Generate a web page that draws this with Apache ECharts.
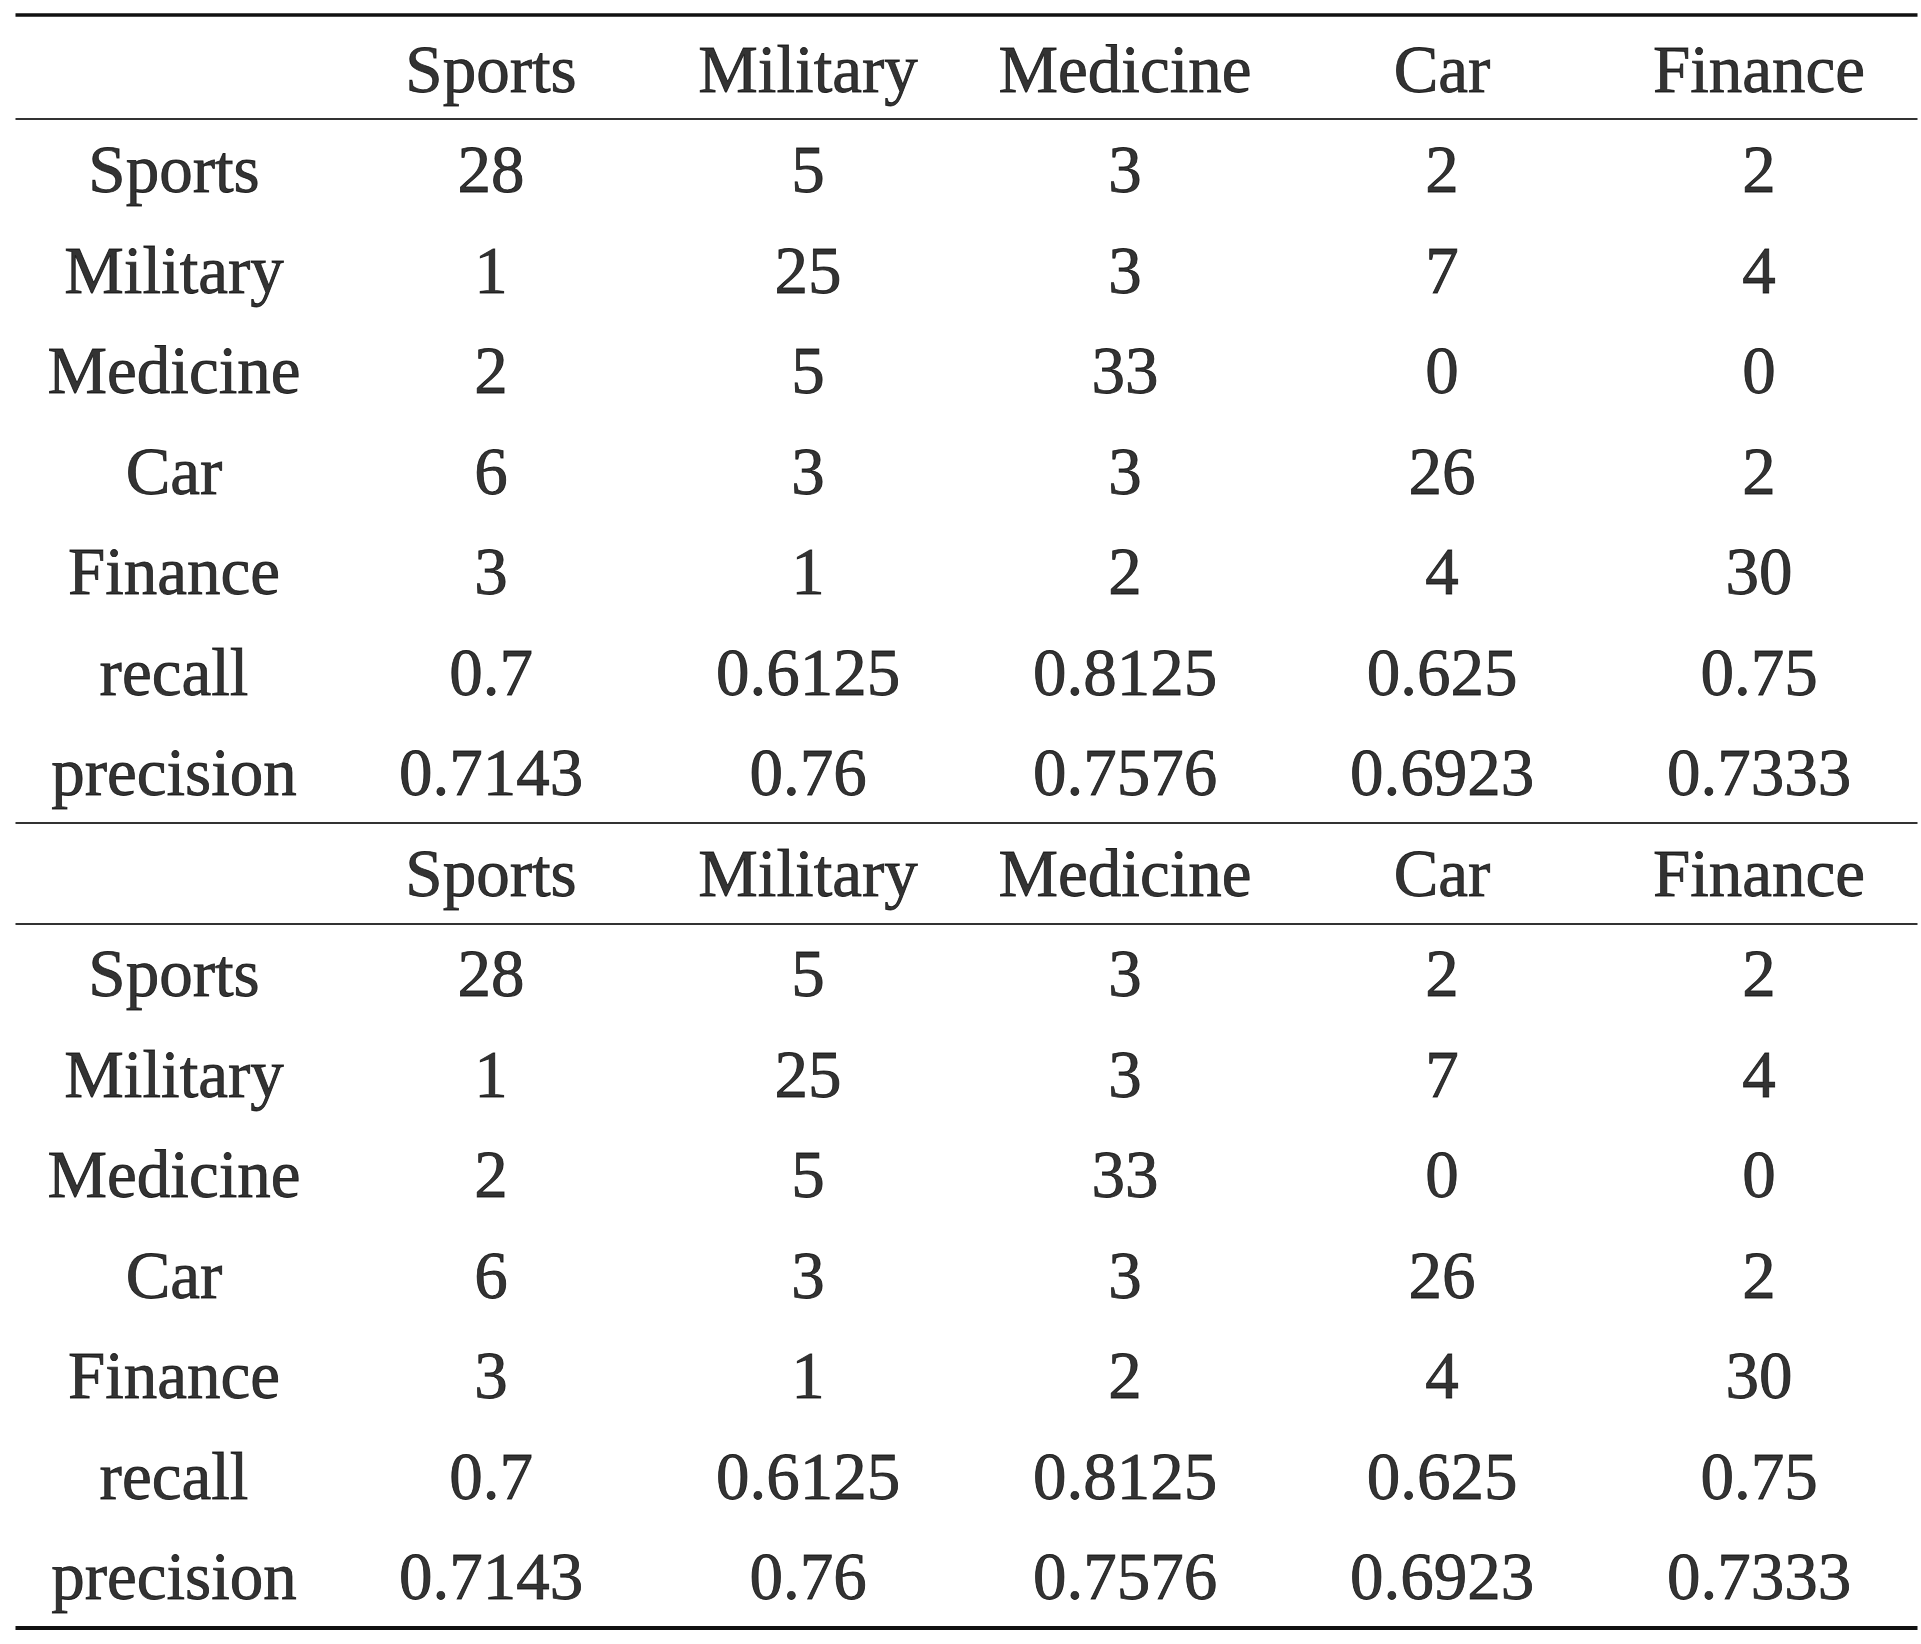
<!DOCTYPE html>
<html>
<head>
<meta charset="utf-8">
<script src="https://cdn.jsdelivr.net/npm/echarts@6/dist/echarts.min.js"></script>
<style>
  html, body { margin: 0; padding: 0; background: #fff; }
  #main { width: 1921px; height: 1644px; }
</style>
</head>
<body>
<div id="main"></div>
<script>
// table contents
var classes = ['Sports', 'Military', 'Medicine', 'Car', 'Finance'];
var confusion = [
    [28, 5, 3, 2, 2],
    [1, 25, 3, 7, 4],
    [2, 5, 33, 0, 0],
    [6, 3, 3, 26, 2],
    [3, 1, 2, 4, 30]
];
var recall = ['0.7', '0.6125', '0.8125', '0.625', '0.75'];
var precision = ['0.7143', '0.76', '0.7576', '0.6923', '0.7333'];

// one block = header row + class rows + recall + precision
var blockRows = [['', ...classes]];
classes.forEach(function (c, i) {
    blockRows.push([c, ...confusion[i].map(String)]);
});
blockRows.push(['recall', ...recall]);
blockRows.push(['precision', ...precision]);

// the picture shows the same block twice
var rows = blockRows.concat(blockRows);

var cells = [];
rows.forEach(function (r, ri) {
    r.forEach(function (txt, ci) {
        if (txt !== '') cells.push([ci, ri, txt]);
    });
});

var n = blockRows.length;
var rules = [
    { yAxis: -0.55, lineStyle: { width: 3.5, color: '#111', type: 'solid' } },
    { yAxis: 0.48, lineStyle: { width: 2, color: '#333', type: 'solid' } },
    { yAxis: n - 0.51, lineStyle: { width: 2, color: '#333', type: 'solid' } },
    { yAxis: n + 0.49, lineStyle: { width: 2, color: '#333', type: 'solid' } },
    { yAxis: 2 * n - 0.5, lineStyle: { width: 4, color: '#111', type: 'solid' } }
];

var myChart = echarts.init(document.getElementById('main'));

var option = {
    animation: false,
    backgroundColor: '#fff',
    grid: { left: 15.5, right: 3.5, top: 15, bottom: 16, containLabel: false },
    xAxis: { type: 'value', min: -0.5, max: 5.5, show: false },
    yAxis: { type: 'value', min: -0.55, max: 2 * n - 0.5, inverse: true, show: false },
    series: [
        {
            type: 'scatter',
            symbolSize: 0,
            data: cells,
            label: {
                show: true,
                position: 'inside',
                offset: [0, 4],
                formatter: function (p) { return p.value[2]; },
                fontFamily: '"Liberation Serif", "Times New Roman", serif',
                fontSize: 67,
                color: '#000',
                textBorderColor: '#000',
                textBorderWidth: 0.8
            },
            markLine: {
                silent: true,
                symbol: 'none',
                label: { show: false },
                lineStyle: { type: 'solid' },
                data: rules
            }
        }
    ]
};

myChart.setOption(option);
</script>
</body>
</html>
